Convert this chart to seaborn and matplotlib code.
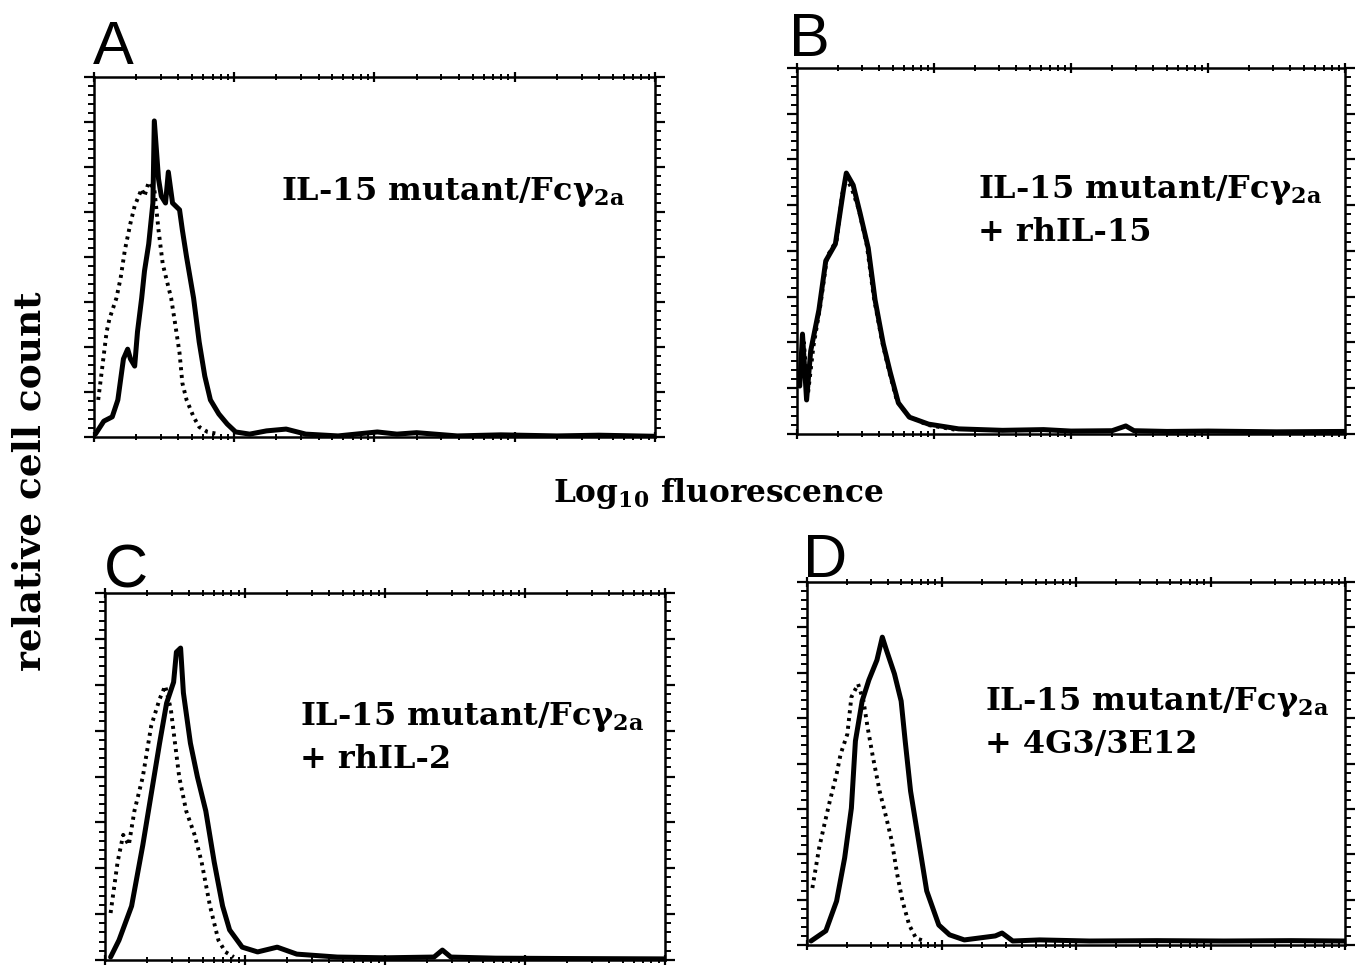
import numpy as np
import matplotlib
matplotlib.use("Agg")
import matplotlib.pyplot as plt
from matplotlib.ticker import FixedLocator, MultipleLocator
import seaborn as sns

sns.set_style("white")
plt.rcParams["text.color"] = "black"
plt.rcParams["mathtext.fontset"] = "custom"
plt.rcParams["mathtext.rm"] = "DejaVu Serif:bold"
plt.rcParams["mathtext.it"] = "DejaVu Serif:bold"
plt.rcParams["mathtext.bf"] = "DejaVu Serif:bold"

# x: log10 fluorescence (decades), y: relative cell count (% of axis height)
a_solid_x = [0.01, 0.07, 0.13, 0.17, 0.21, 0.24, 0.26, 0.29, 0.31, 0.34, 0.36, 0.39, 0.42, 0.43, 0.46,
             0.48, 0.51, 0.53, 0.56, 0.61, 0.63, 0.66, 0.71, 0.75, 0.79, 0.83, 0.89, 0.95, 1.01, 1.11,
             1.23, 1.37, 1.51, 1.74, 2.02, 2.16, 2.30, 2.59, 2.90, 3.30, 3.60, 4.00]
a_solid_y = [0.8, 4.4, 5.6, 10.3, 21.7, 24.4, 21.7, 19.7, 29.2, 38.6, 46.1, 53.6, 65.0, 87.8, 71.7,
             66.9, 65.0, 73.6, 65.0, 63.1, 57.5, 50.0, 38.6, 26.4, 16.9, 10.3, 6.4, 3.6, 1.4, 0.8,
             1.7, 2.2, 0.8, 0.3, 1.4, 0.8, 1.2, 0.3, 0.6, 0.3, 0.5, 0.2]
a_dot_x = [0.03, 0.06, 0.09, 0.11, 0.16, 0.19, 0.22, 0.26, 0.29, 0.34, 0.36, 0.39, 0.43, 0.46, 0.49,
           0.52, 0.55, 0.58, 0.61, 0.63, 0.66, 0.71, 0.75, 0.81, 0.89]
a_dot_y = [10.3, 19.7, 29.2, 32.8, 38.6, 44.2, 51.9, 59.4, 64.2, 68.9, 66.9, 70.8, 68.9, 57.5, 48.1,
           43.3, 38.6, 31.1, 23.3, 15.0, 10.3, 5.6, 2.8, 1.4, 0.8]

b_solid_x = [0.02, 0.04, 0.07, 0.10, 0.16, 0.21, 0.28, 0.34, 0.36, 0.41, 0.46, 0.52, 0.57, 0.63, 0.68,
             0.74, 0.82, 0.96, 1.18, 1.50, 1.80, 2.00, 2.30, 2.40, 2.46, 2.70, 3.00, 3.50, 4.00]
b_solid_y = [13.1, 27.3, 9.3, 22.7, 33.9, 47.3, 51.9, 66.9, 71.3, 68.0, 60.4, 50.8, 36.6, 24.6, 16.9,
             8.5, 4.6, 2.7, 1.4, 1.0, 1.2, 0.8, 0.9, 2.2, 0.9, 0.7, 0.8, 0.6, 0.7]
b_dot_x = [0.02, 0.05, 0.08, 0.12, 0.17, 0.22, 0.29, 0.33, 0.36, 0.40, 0.45, 0.51, 0.56, 0.62, 0.67,
           0.73, 0.81, 0.95, 1.15]
b_dot_y = [14.0, 25.0, 11.0, 24.0, 35.0, 48.5, 53.0, 65.5, 70.0, 67.0, 61.5, 51.5, 37.5, 25.5, 17.5,
           9.0, 5.0, 2.5, 1.2]

c_solid_x = [0.04, 0.10, 0.19, 0.27, 0.33, 0.39, 0.44, 0.49, 0.51, 0.54, 0.56, 0.61, 0.66, 0.72, 0.78,
             0.84, 0.89, 0.98, 1.09, 1.23, 1.37, 1.66, 2.00, 2.35, 2.41, 2.47, 2.79, 3.30, 4.00]
c_solid_y = [0.8, 5.4, 14.7, 31.3, 45.2, 59.1, 70.0, 75.7, 83.9, 85.0, 72.8, 59.1, 49.9, 40.6, 26.7,
             14.7, 8.2, 3.5, 2.2, 3.5, 1.6, 0.8, 0.6, 0.8, 2.7, 0.8, 0.5, 0.4, 0.3]
c_dot_x = [0.04, 0.09, 0.13, 0.17, 0.21, 0.27, 0.33, 0.39, 0.43, 0.47, 0.50, 0.53, 0.58, 0.64, 0.69,
           0.75, 0.81, 0.86, 0.92]
c_dot_y = [12.8, 26.7, 34.1, 31.3, 40.6, 49.9, 63.8, 71.1, 74.7, 68.4, 59.1, 49.9, 40.6, 34.1, 26.7,
           14.7, 5.4, 2.2, 0.8]

d_solid_x = [0.03, 0.14, 0.22, 0.28, 0.33, 0.36, 0.41, 0.46, 0.52, 0.56, 0.59, 0.65, 0.70, 0.73, 0.77,
             0.83, 0.89, 0.98, 1.06, 1.17, 1.40, 1.45, 1.53, 1.73, 2.10, 2.60, 3.10, 3.60, 4.00]
d_solid_y = [1.1, 3.9, 12.1, 24.0, 37.7, 56.2, 67.2, 73.0, 78.5, 84.8, 81.3, 74.7, 67.2, 56.2, 42.4,
             28.7, 14.9, 5.5, 2.8, 1.4, 2.5, 3.3, 1.1, 1.4, 1.1, 1.2, 1.1, 1.2, 1.1]
d_dot_x = [0.04, 0.09, 0.13, 0.17, 0.22, 0.25, 0.30, 0.33, 0.38, 0.42, 0.45, 0.49, 0.54, 0.59, 0.63,
           0.67, 0.71, 0.76, 0.81, 0.87]
d_dot_y = [15.7, 26.7, 33.3, 39.7, 47.1, 52.6, 58.1, 68.3, 71.9, 67.2, 60.1, 51.8, 42.4, 35.0, 28.7,
           19.6, 12.1, 5.5, 1.9, 1.1]

panel_letters = ["A", "B", "C", "D"]
line1 = "IL-15 mutant/Fcγ$_{\\mathrm{2a}}$"
panel_line2 = ["", "+ rhIL-15", "+ rhIL-2", "+ 4G3/3E12"]
x_label = "Log$_{\\mathrm{10}}$ fluorescence"
y_label = "relative cell count"

W, H = 1358, 967
fig = plt.figure(figsize=(W / 100, H / 100), dpi=100)

# (left, bottom, width, height) in px
boxes = [(94, 437, 561, 360), (797, 434, 548, 366), (105, 960, 560, 367), (807, 945, 538, 363)]
letter_pos = [(93, 64), (789, 56), (104, 588), (803, 577)]
text_pos = [(281, 200), (978, 198), (300, 725), (985, 710)]

data = [(a_solid_x, a_solid_y, a_dot_x, a_dot_y),
        (b_solid_x, b_solid_y, b_dot_x, b_dot_y),
        (c_solid_x, c_solid_y, c_dot_x, c_dot_y),
        (d_solid_x, d_solid_y, d_dot_x, d_dot_y)]

minor_x = [d + np.log10(k) for d in range(4) for k in range(2, 10)]
serif = "DejaVu Serif"

for i, (l, b, w, h) in enumerate(boxes):
    ax = fig.add_axes([l / W, 1 - b / H, w / W, h / H])
    sx, sy, dx, dy = data[i]
    sns.lineplot(x=dx, y=dy, ax=ax, color="black", linewidth=2.8, linestyle=(0, (0.8, 1.2)),
                 estimator=None, sort=False)
    sns.lineplot(x=sx, y=sy, ax=ax, color="black", linewidth=3.6,
                 estimator=None, sort=False)
    ax.set_xlim(0, 4)
    ax.set_ylim(0, 100)
    ax.set_xlabel("")
    ax.set_ylabel("")
    for sp in ax.spines.values():
        sp.set_color("black")
        sp.set_linewidth(1.8)
        sp.set_visible(True)
    ax.xaxis.set_major_locator(FixedLocator([0, 1, 2, 3, 4]))
    ax.xaxis.set_minor_locator(FixedLocator(minor_x))
    ax.yaxis.set_major_locator(MultipleLocator(12.5))
    ax.yaxis.set_minor_locator(MultipleLocator(2.5))
    ax.tick_params(axis="both", which="both", direction="out", color="black",
                   labelbottom=False, labelleft=False, bottom=True, left=True)
    ax.tick_params(axis="both", which="major", length=7, width=1.6)
    ax.tick_params(axis="both", which="minor", length=4, width=1.4)
    ax.tick_params(axis="x", which="both", top=True, direction="inout")
    ax.tick_params(axis="y", which="both", right=True)
    ax.tick_params(axis="x", which="both", labeltop=False)
    ax.tick_params(axis="y", which="both", labelright=False)

    lx, ly = letter_pos[i]
    fig.text(lx / W, 1 - ly / H, panel_letters[i], fontsize=44, family="Liberation Sans",
             color="black", ha="left", va="baseline")
    tx, ty = text_pos[i]
    fig.text(tx / W, 1 - ty / H, line1, fontsize=23, family=serif, color="black",
             fontweight="bold", ha="left", va="baseline")
    if panel_line2[i]:
        fig.text(tx / W, 1 - (ty + 43) / H, panel_line2[i], fontsize=23, family=serif,
                 color="black", fontweight="bold", ha="left", va="baseline")

fig.text(718 / W, 1 - 502 / H, x_label, fontsize=22.5, family=serif, color="black",
         fontweight="bold", ha="center", va="baseline")
fig.text(30 / W, 1 - 481 / H, y_label, fontsize=27, family=serif, color="black",
         fontweight="bold", ha="center", va="center", rotation=90)

fig.savefig("out.png", dpi=100, facecolor="white")
